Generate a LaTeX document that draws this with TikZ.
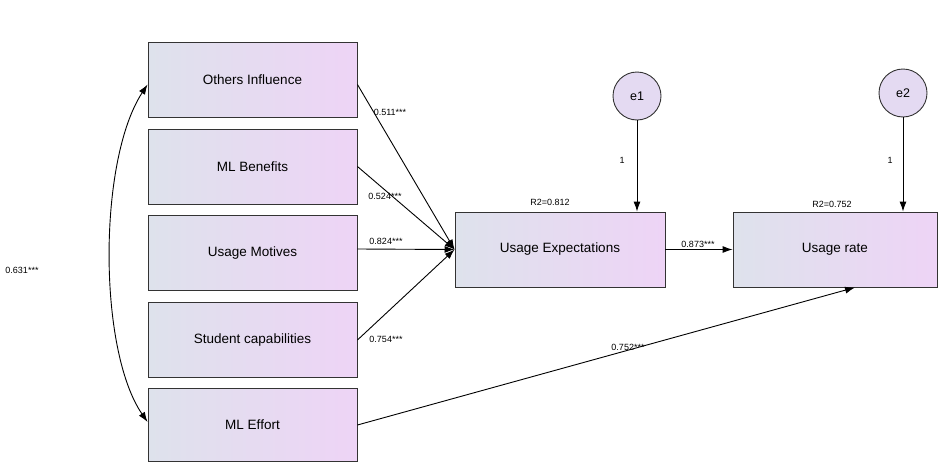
\documentclass[tikz,border=0pt]{standalone}
\usepackage{fontspec}
\setmainfont{Liberation Sans}
\usetikzlibrary{arrows.meta,calc}
\definecolor{boxleft}{RGB}{222,226,236}
\definecolor{boxright}{RGB}{238,212,246}
\definecolor{circfill}{RGB}{228,218,242}
\tikzset{
  varbox/.style={draw=black!80, line width=0.9pt, left color=boxleft, right color=boxright,
    minimum width=209pt, minimum height=75pt, inner sep=0pt, font=\fontsize{13.5}{15}\selectfont},
  errcirc/.style={draw=black!80, line width=0.9pt, fill=circfill, circle, minimum size=48pt,
    inner sep=0pt, font=\fontsize{12.5}{14}\selectfont},
  path/.style={draw, line width=0.9pt, -{Latex[length=10pt,width=7pt]}},
  lab/.style={font=\fontsize{9}{10}\selectfont, inner sep=1pt}
}
\begin{document}
\begin{tikzpicture}[x=1pt,y=-1pt]
\useasboundingbox (0,0) rectangle (938,461);
\node[varbox] (OI) at (252.5,79.5) {Others Influence};
\node[varbox] (MB) at (252.5,166.5) {ML Benefits};
\node[varbox] (UM) at (252.5,253) {Usage Motives};
\node[varbox] (SC) at (252.5,340) {Student capabilities};
\node[varbox, minimum height=73pt] (ME) at (252.5,425) {ML Effort};
\node[varbox, minimum width=210pt] (UE) at (560,249.5) {Usage Expectations};
\node[varbox, minimum width=204pt] (UR) at (835,249.5) {Usage rate};
\node[errcirc] (e1) at (637,96) {e1};
\node[errcirc] (e2) at (903,93) {e2};
\coordinate (conv) at (UE.west);
\draw[path] (OI.east) ++(0,5) -- (conv);
\draw[path] (MB.east) -- (conv);
\draw[path] (UM.east) ++(0,-4) -- (conv);
\draw[path] (SC.east) -- (conv);
\draw[path] (UE.east) -- (UR.west);
\draw[path] (ME.east) -- ([xshift=20pt]UR.south);
\draw[path] (e1) -- (e1 |- UE.north);
\draw[path] (e2) -- (e2 |- UR.north);
\draw[line width=0.9pt, {Latex[length=10pt,width=7pt]}-{Latex[length=10pt,width=7pt]}]
  (OI.west) ++(0,5) .. controls (98,160) and (98,350) .. ([yshift=3pt]ME.west);
\node[lab] (l0) at (22,270) {0.631***};
\node[lab] (l1) at (390,112) {0.511***};
\node[lab] (l2) at (385,196) {0.524***};
\node[lab] (l3) at (386,241) {0.824***};
\node[lab] (l4) at (386,339) {0.754***};
\node[lab] (l5) at (698,244) {0.873***};
\node[lab] (l6) at (628,347) {0.752***};
\node[lab] (r1) at (550,202) {R2=0.812};
\node[lab] (r2) at (832,204) {R2=0.752};
\node[lab] (o1) at (622,160) {1};
\node[lab] (o2) at (890,160) {1};
\end{tikzpicture}
\end{document}
